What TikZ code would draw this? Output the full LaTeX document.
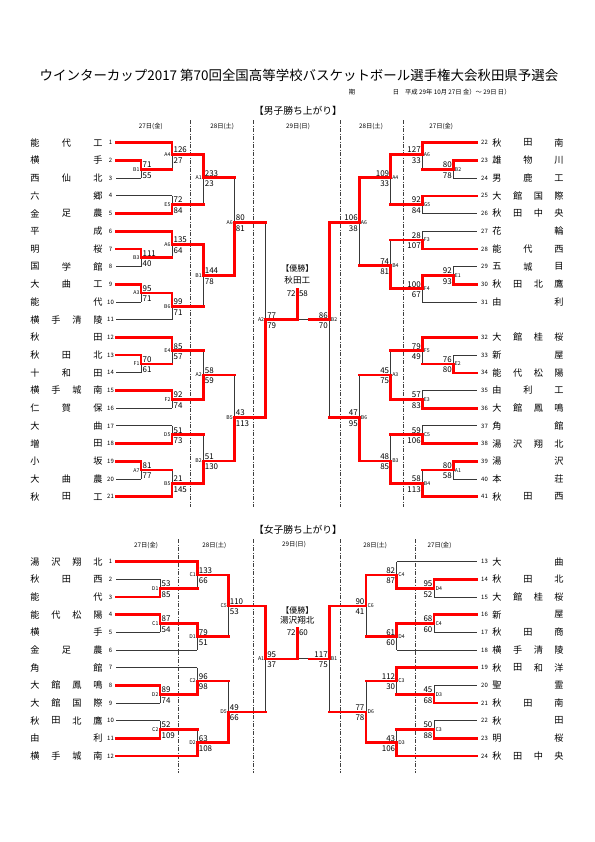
\documentclass[tikz,border=0pt]{standalone}
\usepackage{fontspec}
\setmainfont{Noto Sans CJK JP}
\pgfdeclarelayer{front}
\pgfsetlayers{main,front}
\newcount\mc
\tikzset{
  win/.style={draw=red, line width=2.6bp, line cap=rect},
  lose/.style={draw=black!78, line width=0.9bp},
  sc/.style={font=\fontsize{8}{8}\selectfont, inner sep=0pt},
  lb/.style={font=\fontsize{5.2}{5.2}\selectfont, inner sep=0pt},
  num/.style={font=\fontsize{6}{6}\selectfont, inner sep=0pt},
  nm/.style={font=\fontsize{9.2}{9.2}\selectfont, inner sep=0pt},
  hd/.style={font=\fontsize{6.3}{6.3}\selectfont, inner sep=0pt},
  sepl/.style={draw=black!75, line width=0.8bp, dash pattern=on 4bp off 1.5bp on 1bp off 1.5bp},
}
\newcommand\teamL[5]{%
  \node[num] (#1#2n) at (110.5,#3) {#2};
  \foreach \ch [count=\k] in {#5}{\node[nm] (#1#2c\k) at ({35+(\k-1)*63/(#4-1)},#3) {\ch};}%
}
\newcommand\teamR[5]{%
  \node[num] (#1#2n) at (484.5,#3) {#2};
  \foreach \ch [count=\k] in {#5}{\node[nm] (#1#2c\k) at ({497+(\k-1)*62/(#4-1)},#3) {\ch};}%
}
\newcommand\tLW[2]{\begin{pgfonlayer}{front}\draw[win] (116,#1) -- (#2,#1);\end{pgfonlayer}}
\newcommand\tLB[2]{\draw[lose] (116,#1) -- (#2,#1);}
\newcommand\tRW[2]{\begin{pgfonlayer}{front}\draw[win] (476.7,#1) -- (#2,#1);\end{pgfonlayer}}
\newcommand\tRB[2]{\draw[lose] (476.7,#1) -- (#2,#1);}
\newcommand\mL[9]{%
  \global\advance\mc by 1\relax
  \if t#9\relax
    \draw[lose] (#1,#4) -- (#1,#3);
    \begin{pgfonlayer}{front}\draw[win] (#1,#2) -- (#1,#4) -- (#5,#4);\end{pgfonlayer}
  \else
    \draw[lose] (#1,#2) -- (#1,#4);
    \begin{pgfonlayer}{front}\draw[win] (#1,#3) -- (#1,#4) -- (#5,#4);\end{pgfonlayer}
  \fi
  \node[sc,anchor=base west] (k\number\mc t) at (#1+1.4,#4-1.7) {#6};
  \node[sc,anchor=base west] (k\number\mc b) at (#1+1.4,#4+8.8) {#7};
  \node[lb,anchor=east] (k\number\mc l) at (#1-1.4,#4) {#8};
}
\newcommand\mR[9]{%
  \global\advance\mc by 1\relax
  \if t#9\relax
    \draw[lose] (#1,#4) -- (#1,#3);
    \begin{pgfonlayer}{front}\draw[win] (#1,#2) -- (#1,#4) -- (#5,#4);\end{pgfonlayer}
  \else
    \draw[lose] (#1,#2) -- (#1,#4);
    \begin{pgfonlayer}{front}\draw[win] (#1,#3) -- (#1,#4) -- (#5,#4);\end{pgfonlayer}
  \fi
  \node[sc,anchor=base east] (k\number\mc t) at (#1-1.4,#4-1.7) {#6};
  \node[sc,anchor=base east] (k\number\mc b) at (#1-1.4,#4+8.8) {#7};
  \node[lb,anchor=west] (k\number\mc l) at (#1+1.4,#4) {#8};
}
\begin{document}
\begin{tikzpicture}[x=1bp,y=-1bp]
\fill[white] (0,0) rectangle (595,842);
\useasboundingbox (0,0) rectangle (595,842);
% ---------- titles
\node[font=\fontsize{13.5}{13.5}\selectfont, inner sep=0pt] (title) at (299,75)
  {ウインターカップ2017 第70回全国高等学校バスケットボール選手権大会秋田県予選会};
\node[hd] (ki) at (352,92) {期};
\node[hd] (bi) at (396,92) {日};
\node[hd,anchor=west] (date) at (405,92) {平成 29年 10月 27日 金）～ 29日 日）};
\node[font=\fontsize{9.8}{9.8}\selectfont, inner sep=0pt] (mhead) at (298,111) {【男子勝ち上がり】};
\node[font=\fontsize{9.8}{9.8}\selectfont, inner sep=0pt] (whead) at (298,530) {【女子勝ち上がり】};
% ---------- day headers
\node[hd] (mh1) at (150.8,126.5) {27日(金)};
\node[hd] (mh2) at (222.2,126.5) {28日(土)};
\node[hd] (mh3) at (298,126.5) {29日(日)};
\node[hd] (mh4) at (371,126.5) {28日(土)};
\node[hd] (mh5) at (441.2,126.5) {27日(金)};
\node[hd] (wh1) at (146.1,545) {27日(金)};
\node[hd] (wh2) at (214.3,545) {28日(土)};
\node[hd] (wh3) at (294,545) {29日(日)};
\node[hd] (wh4) at (375.2,545) {28日(土)};
\node[hd] (wh5) at (439.5,545) {27日(金)};
% ---------- separators
\foreach \sx in {190.7,253.3,340.7,403.3}{\draw[sepl] (\sx,120) -- (\sx,507);}
\foreach \sx in {178.3,253.3,340.7,415.7}{\draw[sepl] (\sx,539) -- (\sx,773);}
% ================= MEN LEFT
\teamL{m}{1}{142.7}{3}{能,代,工}
\teamL{m}{2}{160.4}{2}{横,手}
\teamL{m}{3}{178.1}{3}{西,仙,北}
\teamL{m}{4}{195.8}{2}{六,郷}
\teamL{m}{5}{213.5}{3}{金,足,農}
\teamL{m}{6}{231.2}{2}{平,成}
\teamL{m}{7}{248.9}{2}{明,桜}
\teamL{m}{8}{266.6}{3}{国,学,館}
\teamL{m}{9}{284.3}{3}{大,曲,工}
\teamL{m}{10}{302.0}{2}{能,代}
\teamL{m}{11}{319.7}{4}{横,手,清,陵}
\teamL{m}{12}{337.4}{2}{秋,田}
\teamL{m}{13}{355.1}{3}{秋,田,北}
\teamL{m}{14}{372.8}{3}{十,和,田}
\teamL{m}{15}{390.5}{4}{横,手,城,南}
\teamL{m}{16}{408.2}{3}{仁,賀,保}
\teamL{m}{17}{425.9}{2}{大,曲}
\teamL{m}{18}{443.6}{2}{増,田}
\teamL{m}{19}{461.3}{2}{小,坂}
\teamL{m}{20}{479.0}{3}{大,曲,農}
\teamL{m}{21}{496.7}{3}{秋,田,工}
\tLW{142.7}{172}
\tLW{160.4}{141}
\tLB{178.1}{141}
\tLB{195.8}{172}
\tLW{213.5}{172}
\tLW{231.2}{172}
\tLW{248.9}{141}
\tLB{266.6}{141}
\tLW{284.3}{141}
\tLB{302.0}{141}
\tLB{319.7}{172}
\tLW{337.4}{172}
\tLW{355.1}{141}
\tLB{372.8}{141}
\tLW{390.5}{172}
\tLB{408.2}{172}
\tLB{425.9}{172}
\tLW{443.6}{172}
\tLW{461.3}{141}
\tLB{479.0}{141}
\tLW{496.7}{172}
\mL{141}{160.4}{178.1}{169.3}{172}{71}{55}{B1}{t}
\mL{172}{142.7}{169.3}{154.3}{203.3}{126}{27}{A4}{t}
\mL{172}{195.8}{213.5}{204.6}{203.3}{72}{84}{E5}{b}
\mL{203.3}{154.3}{204.6}{177.7}{234.3}{233}{23}{A1}{t}
\mL{141}{248.9}{266.6}{257.7}{172}{111}{40}{B3}{t}
\mL{172}{231.2}{257.7}{244.3}{203.3}{135}{64}{A6}{t}
\mL{141}{284.3}{302.0}{293.1}{172}{95}{71}{A3}{t}
\mL{172}{293.1}{319.7}{306.3}{203.3}{99}{71}{B6}{t}
\mL{203.3}{244.3}{306.3}{275.3}{234.3}{144}{78}{B1}{t}
\mL{234.3}{177.7}{275.3}{222.3}{265.7}{80}{81}{A6}{b}
\mL{141}{355.1}{372.8}{364.0}{172}{70}{61}{F1}{t}
\mL{172}{337.4}{364.0}{350.7}{203.3}{85}{57}{E4}{t}
\mL{172}{390.5}{408.2}{399.3}{203.3}{92}{74}{F2}{t}
\mL{203.3}{350.7}{399.3}{375.0}{234.3}{58}{59}{A2}{b}
\mL{172}{425.9}{443.6}{434.7}{203.3}{51}{73}{D5}{b}
\mL{141}{461.3}{479.0}{470.1}{172}{81}{77}{A7}{t}
\mL{172}{470.1}{496.7}{483.4}{203.3}{21}{145}{B5}{b}
\mL{203.3}{434.7}{483.4}{461.0}{234.3}{51}{130}{B2}{b}
\mL{234.3}{375.0}{461.0}{417.3}{265.7}{43}{113}{B5}{b}
\mL{265.7}{222.3}{417.3}{319.7}{297.3}{77}{79}{A2}{b}
% ================= MEN RIGHT
\teamR{m}{22}{142.7}{3}{秋,田,南}
\teamR{m}{23}{160.4}{3}{雄,物,川}
\teamR{m}{24}{178.1}{3}{男,鹿,工}
\teamR{m}{25}{195.8}{4}{大,館,国,際}
\teamR{m}{26}{213.5}{4}{秋,田,中,央}
\teamR{m}{27}{231.2}{2}{花,輪}
\teamR{m}{28}{248.9}{3}{能,代,西}
\teamR{m}{29}{266.6}{3}{五,城,目}
\teamR{m}{30}{284.3}{4}{秋,田,北,鷹}
\teamR{m}{31}{302.0}{2}{由,利}
\teamR{m}{32}{337.4}{4}{大,館,桂,桜}
\teamR{m}{33}{355.1}{2}{新,屋}
\teamR{m}{34}{372.8}{4}{能,代,松,陽}
\teamR{m}{35}{390.5}{3}{由,利,工}
\teamR{m}{36}{408.2}{4}{大,館,鳳,鳴}
\teamR{m}{37}{425.9}{2}{角,館}
\teamR{m}{38}{443.6}{4}{湯,沢,翔,北}
\teamR{m}{39}{461.3}{2}{湯,沢}
\teamR{m}{40}{479.0}{2}{本,荘}
\teamR{m}{41}{496.7}{3}{秋,田,西}
\tRW{142.7}{422.3}
\tRW{160.4}{453.3}
\tRB{178.1}{453.3}
\tRW{195.8}{422.3}
\tRB{213.5}{422.3}
\tRB{231.2}{422.3}
\tRW{248.9}{422.3}
\tRB{266.6}{453.3}
\tRW{284.3}{453.3}
\tRB{302.0}{422.3}
\tRW{337.4}{422.3}
\tRB{355.1}{453.3}
\tRW{372.8}{453.3}
\tRB{390.5}{422.3}
\tRW{408.2}{422.3}
\tRB{425.9}{422.3}
\tRW{443.6}{422.3}
\tRW{461.3}{453.3}
\tRB{479.0}{453.3}
\tRW{496.7}{422.3}
\mR{453.3}{160.4}{178.1}{169.3}{422.3}{80}{78}{B2}{t}
\mR{422.3}{142.7}{169.3}{154.3}{390.7}{127}{33}{A6}{t}
\mR{422.3}{195.8}{213.5}{204.6}{390.7}{92}{84}{G5}{t}
\mR{390.7}{154.3}{204.6}{177.7}{359.3}{109}{33}{A4}{t}
\mR{422.3}{231.2}{248.9}{240.0}{390.7}{28}{107}{F3}{b}
\mR{453.3}{266.6}{284.3}{275.4}{422.3}{92}{93}{E1}{b}
\mR{422.3}{275.4}{302.0}{288.7}{390.7}{100}{67}{F4}{t}
\mR{390.7}{240.0}{288.7}{265.7}{359.3}{74}{81}{B4}{b}
\mR{359.3}{177.7}{265.7}{222.3}{329.3}{106}{38}{A6}{t}
\mR{453.3}{355.1}{372.8}{364.0}{422.3}{76}{80}{E2}{b}
\mR{422.3}{337.4}{364.0}{350.7}{390.7}{79}{49}{F5}{t}
\mR{422.3}{390.5}{408.2}{399.3}{390.7}{57}{83}{E3}{b}
\mR{390.7}{350.7}{399.3}{375.0}{359.3}{45}{75}{A3}{b}
\mR{422.3}{425.9}{443.6}{434.7}{390.7}{59}{106}{C5}{b}
\mR{453.3}{461.3}{479.0}{470.1}{422.3}{80}{58}{A1}{t}
\mR{422.3}{470.1}{496.7}{483.4}{390.7}{58}{113}{B4}{b}
\mR{390.7}{434.7}{483.4}{461.0}{359.3}{48}{85}{B3}{b}
\mR{359.3}{375.0}{461.0}{417.3}{329.3}{47}{95}{B6}{b}
\mR{329.3}{222.3}{417.3}{319.7}{309}{86}{70}{B2}{t}
% men centre
\draw[lose] (309,319.7) -- (297.3,319.7);
\begin{pgfonlayer}{front}\draw[win] (297.3,289.3) -- (297.3,319.7);\end{pgfonlayer}
\node[font=\fontsize{8}{8}\selectfont, inner sep=0pt] (mwin) at (297.3,268.5) {【優勝】};
\node[font=\fontsize{8.6}{8.6}\selectfont, inner sep=0pt] (mchamp) at (297.3,280) {秋田工};
\node[sc,anchor=base east] (mf1) at (295.8,296.5) {72};
\node[sc,anchor=base west] (mf2) at (298.8,296.5) {58};
% ================= WOMEN LEFT
\teamL{w}{1}{561.7}{4}{湯,沢,翔,北}
\teamL{w}{2}{579.4}{3}{秋,田,西}
\teamL{w}{3}{597.0}{2}{能,代}
\teamL{w}{4}{614.7}{4}{能,代,松,陽}
\teamL{w}{5}{632.3}{2}{横,手}
\teamL{w}{6}{650.0}{3}{金,足,農}
\teamL{w}{7}{667.7}{2}{角,館}
\teamL{w}{8}{685.3}{4}{大,館,鳳,鳴}
\teamL{w}{9}{703.0}{4}{大,館,国,際}
\teamL{w}{10}{720.6}{4}{秋,田,北,鷹}
\teamL{w}{11}{738.3}{2}{由,利}
\teamL{w}{12}{756.0}{4}{横,手,城,南}
\tLW{561.7}{197.3}
\tLB{579.4}{160}
\tLW{597.0}{160}
\tLW{614.7}{160}
\tLB{632.3}{160}
\tLB{650.0}{197.3}
\tLB{667.7}{197.3}
\tLW{685.3}{160}
\tLB{703.0}{160}
\tLB{720.6}{160}
\tLW{738.3}{160}
\tLW{756.0}{197.3}
\mL{160}{579.4}{597.0}{588.2}{197.3}{53}{85}{D1}{b}
\mL{197.3}{561.7}{588.2}{574.9}{228.3}{133}{66}{C1}{t}
\mL{160}{614.7}{632.3}{623.5}{197.3}{87}{54}{C1}{t}
\mL{197.3}{623.5}{650.0}{636.7}{228.3}{79}{51}{D1}{t}
\mL{228.3}{574.9}{636.7}{605.8}{265.7}{110}{53}{C5}{t}
\mL{160}{685.3}{703.0}{694.2}{197.3}{89}{74}{D2}{t}
\mL{197.3}{667.7}{694.2}{681.0}{228.3}{96}{98}{C2}{b}
\mL{160}{720.6}{738.3}{729.5}{197.3}{52}{109}{C2}{b}
\mL{197.3}{729.5}{756.0}{742.7}{228.3}{63}{108}{D2}{b}
\mL{228.3}{681.0}{742.7}{711.8}{265.7}{49}{66}{D5}{b}
\mL{265.7}{605.8}{711.8}{658.8}{297.3}{95}{37}{A1}{t}
% ================= WOMEN RIGHT
\teamR{w}{13}{561.7}{2}{大,曲}
\teamR{w}{14}{579.4}{3}{秋,田,北}
\teamR{w}{15}{597.0}{4}{大,館,桂,桜}
\teamR{w}{16}{614.7}{2}{新,屋}
\teamR{w}{17}{632.3}{3}{秋,田,商}
\teamR{w}{18}{650.0}{4}{横,手,清,陵}
\teamR{w}{19}{667.7}{4}{秋,田,和,洋}
\teamR{w}{20}{685.3}{2}{聖,霊}
\teamR{w}{21}{703.0}{3}{秋,田,南}
\teamR{w}{22}{720.6}{2}{秋,田}
\teamR{w}{23}{738.3}{2}{明,桜}
\teamR{w}{24}{756.0}{4}{秋,田,中,央}
\tRB{561.7}{396.7}
\tRW{579.4}{434}
\tRB{597.0}{434}
\tRW{614.7}{434}
\tRB{632.3}{434}
\tRB{650.0}{396.7}
\tRW{667.7}{396.7}
\tRB{685.3}{434}
\tRW{703.0}{434}
\tRB{720.6}{434}
\tRW{738.3}{434}
\tRW{756.0}{396.7}
\mR{434}{579.4}{597.0}{588.2}{396.7}{95}{52}{D4}{t}
\mR{396.7}{561.7}{588.2}{574.9}{366}{82}{87}{C4}{b}
\mR{434}{614.7}{632.3}{623.5}{396.7}{68}{60}{C4}{t}
\mR{396.7}{623.5}{650.0}{636.7}{366}{61}{60}{D4}{t}
\mR{366}{574.9}{636.7}{605.8}{329.3}{90}{41}{C6}{t}
\mR{434}{685.3}{703.0}{694.2}{396.7}{45}{68}{D3}{b}
\mR{396.7}{667.7}{694.2}{681.0}{366}{112}{30}{C3}{t}
\mR{434}{720.6}{738.3}{729.5}{396.7}{50}{88}{C3}{b}
\mR{396.7}{729.5}{756.0}{742.7}{366}{43}{106}{D3}{b}
\mR{366}{681.0}{742.7}{711.8}{329.3}{77}{78}{D6}{b}
\mR{329.3}{605.8}{711.8}{658.8}{309}{117}{75}{B1}{t}
% women centre
\draw[lose] (309,658.8) -- (297.3,658.8);
\begin{pgfonlayer}{front}\draw[win] (297.3,628.3) -- (297.3,658.8);\end{pgfonlayer}
\node[font=\fontsize{8}{8}\selectfont, inner sep=0pt] (wwin) at (297.3,610) {【優勝】};
\node[font=\fontsize{8.6}{8.6}\selectfont, inner sep=0pt] (wchamp) at (297.3,620.5) {湯沢翔北};
\node[sc,anchor=base east] (wf1) at (295.8,635.3) {72};
\node[sc,anchor=base west] (wf2) at (298.8,635.3) {60};
\end{tikzpicture}
\end{document}
